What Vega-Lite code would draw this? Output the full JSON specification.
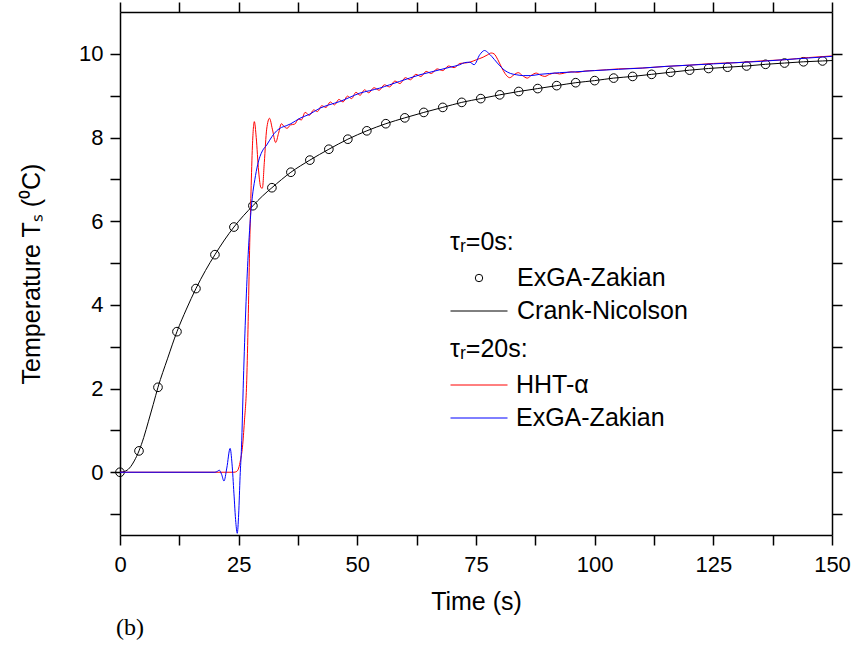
{
 "$schema": "https://vega.github.io/schema/vega-lite/v6.json",
 "width": 712,
 "height": 523,
 "autosize": {"type": "none"},
 "padding": {"left": 120, "top": 12, "right": 23, "bottom": 123},
 "background": "white",
 "title": {"text": "(b)", "orient": "bottom", "anchor": "start", "frame": "group", "font": "Liberation Serif", "fontSize": 24, "fontWeight": "normal", "color": "black", "offset": 2, "dx": -4},
 "config": {
  "view": {"stroke": null},
  "font": "Liberation Sans",
  "axis": {"domainColor": "black", "domainWidth": 1.5, "tickColor": "black", "tickWidth": 1.5, "labelColor": "black", "labelFont": "Liberation Sans", "labelFontSize": 22, "titleFont": "Liberation Sans", "titleFontSize": 25, "titleFontWeight": "normal", "titleColor": "black", "grid": false, "labelFlush": false, "labelOverlap": false, "labelBound": false},
  "legend": {"orient": "none", "labelFont": "Liberation Sans", "labelFontSize": 25, "labelColor": "black", "titleFont": "Liberation Sans", "titleFontSize": 25, "titleFontWeight": "normal", "titleColor": "black", "padding": 0, "rowPadding": 8, "titlePadding": 11, "labelOffset": 8, "symbolSize": 3249, "symbolStrokeWidth": 1, "clipHeight": 24, "titleLimit": 300, "labelLimit": 300}
 },
 "datasets": {
  "ex0": [
   {"t": 0, "T": 0, "s": "ExGA-Zakian"}, {"t": 4, "T": 0.51, "s": "ExGA-Zakian"}, {"t": 8, "T": 2.03, "s": "ExGA-Zakian"}, {"t": 12, "T": 3.36, "s": "ExGA-Zakian"}, {"t": 16, "T": 4.39, "s": "ExGA-Zakian"}, {"t": 20, "T": 5.2, "s": "ExGA-Zakian"}, {"t": 24, "T": 5.86, "s": "ExGA-Zakian"}, {"t": 28, "T": 6.37, "s": "ExGA-Zakian"}, {"t": 32, "T": 6.8, "s": "ExGA-Zakian"}, {"t": 36, "T": 7.17, "s": "ExGA-Zakian"}, {"t": 40, "T": 7.46, "s": "ExGA-Zakian"}, {"t": 44, "T": 7.72, "s": "ExGA-Zakian"}, {"t": 48, "T": 7.96, "s": "ExGA-Zakian"}, {"t": 52, "T": 8.16, "s": "ExGA-Zakian"}, {"t": 56, "T": 8.33, "s": "ExGA-Zakian"}, {"t": 60, "T": 8.47, "s": "ExGA-Zakian"}, {"t": 64, "T": 8.6, "s": "ExGA-Zakian"}, {"t": 68, "T": 8.72, "s": "ExGA-Zakian"}, {"t": 72, "T": 8.84, "s": "ExGA-Zakian"}, {"t": 76, "T": 8.93, "s": "ExGA-Zakian"}, {"t": 80, "T": 9.02, "s": "ExGA-Zakian"}, {"t": 84, "T": 9.1, "s": "ExGA-Zakian"}, {"t": 88, "T": 9.17, "s": "ExGA-Zakian"}, {"t": 92, "T": 9.24, "s": "ExGA-Zakian"}, {"t": 96, "T": 9.31, "s": "ExGA-Zakian"}, {"t": 100, "T": 9.36, "s": "ExGA-Zakian"}, {"t": 104, "T": 9.42, "s": "ExGA-Zakian"}, {"t": 108, "T": 9.46, "s": "ExGA-Zakian"}, {"t": 112, "T": 9.51, "s": "ExGA-Zakian"}, {"t": 116, "T": 9.56, "s": "ExGA-Zakian"}, {"t": 120, "T": 9.61, "s": "ExGA-Zakian"}, {"t": 124, "T": 9.65, "s": "ExGA-Zakian"}, {"t": 128, "T": 9.68, "s": "ExGA-Zakian"}, {"t": 132, "T": 9.71, "s": "ExGA-Zakian"}, {"t": 136, "T": 9.75, "s": "ExGA-Zakian"}, {"t": 140, "T": 9.78, "s": "ExGA-Zakian"}, {"t": 144, "T": 9.81, "s": "ExGA-Zakian"}, {"t": 148, "T": 9.83, "s": "ExGA-Zakian"}
  ],
  "cn": [
   {"t": 0, "T": 0, "s": "Crank-Nicolson"}, {"t": 1, "T": 0.02, "s": "Crank-Nicolson"}, {"t": 2, "T": 0.1, "s": "Crank-Nicolson"}, {"t": 3, "T": 0.27, "s": "Crank-Nicolson"}, {"t": 4, "T": 0.51, "s": "Crank-Nicolson"}, {"t": 5, "T": 0.83, "s": "Crank-Nicolson"}, {"t": 6, "T": 1.22, "s": "Crank-Nicolson"}, {"t": 7, "T": 1.62, "s": "Crank-Nicolson"}, {"t": 8, "T": 2.03, "s": "Crank-Nicolson"}, {"t": 10, "T": 2.71, "s": "Crank-Nicolson"}, {"t": 12, "T": 3.36, "s": "Crank-Nicolson"}, {"t": 14, "T": 3.9, "s": "Crank-Nicolson"}, {"t": 16, "T": 4.39, "s": "Crank-Nicolson"}, {"t": 18, "T": 4.82, "s": "Crank-Nicolson"}, {"t": 20, "T": 5.2, "s": "Crank-Nicolson"}, {"t": 22, "T": 5.55, "s": "Crank-Nicolson"}, {"t": 24, "T": 5.86, "s": "Crank-Nicolson"}, {"t": 26, "T": 6.13, "s": "Crank-Nicolson"}, {"t": 28, "T": 6.37, "s": "Crank-Nicolson"}, {"t": 30, "T": 6.6, "s": "Crank-Nicolson"}, {"t": 32, "T": 6.8, "s": "Crank-Nicolson"}, {"t": 36, "T": 7.17, "s": "Crank-Nicolson"}, {"t": 40, "T": 7.46, "s": "Crank-Nicolson"}, {"t": 44, "T": 7.72, "s": "Crank-Nicolson"}, {"t": 48, "T": 7.96, "s": "Crank-Nicolson"}, {"t": 52, "T": 8.16, "s": "Crank-Nicolson"}, {"t": 56, "T": 8.33, "s": "Crank-Nicolson"}, {"t": 60, "T": 8.47, "s": "Crank-Nicolson"}, {"t": 64, "T": 8.6, "s": "Crank-Nicolson"}, {"t": 68, "T": 8.72, "s": "Crank-Nicolson"}, {"t": 72, "T": 8.84, "s": "Crank-Nicolson"}, {"t": 76, "T": 8.93, "s": "Crank-Nicolson"}, {"t": 80, "T": 9.02, "s": "Crank-Nicolson"}, {"t": 84, "T": 9.1, "s": "Crank-Nicolson"}, {"t": 88, "T": 9.17, "s": "Crank-Nicolson"}, {"t": 92, "T": 9.24, "s": "Crank-Nicolson"}, {"t": 96, "T": 9.31, "s": "Crank-Nicolson"}, {"t": 100, "T": 9.36, "s": "Crank-Nicolson"}, {"t": 104, "T": 9.42, "s": "Crank-Nicolson"}, {"t": 108, "T": 9.46, "s": "Crank-Nicolson"}, {"t": 112, "T": 9.51, "s": "Crank-Nicolson"}, {"t": 116, "T": 9.56, "s": "Crank-Nicolson"}, {"t": 120, "T": 9.61, "s": "Crank-Nicolson"}, {"t": 124, "T": 9.65, "s": "Crank-Nicolson"}, {"t": 128, "T": 9.68, "s": "Crank-Nicolson"}, {"t": 132, "T": 9.71, "s": "Crank-Nicolson"}, {"t": 136, "T": 9.75, "s": "Crank-Nicolson"}, {"t": 140, "T": 9.78, "s": "Crank-Nicolson"}, {"t": 144, "T": 9.81, "s": "Crank-Nicolson"}, {"t": 148, "T": 9.83, "s": "Crank-Nicolson"}, {"t": 150, "T": 9.84, "s": "Crank-Nicolson"}
  ],
  "tau20": [
   {"t": 0, "T": 0, "s": "HHT-α"}, {"t": 24.0, "T": 0, "s": "HHT-α"}, {"t": 24.6, "T": 0.02, "s": "HHT-α"}, {"t": 25.0, "T": 0.1, "s": "HHT-α"}, {"t": 25.4, "T": 0.3, "s": "HHT-α"}, {"t": 25.8, "T": 0.6, "s": "HHT-α"}, {"t": 26.2, "T": 1.2, "s": "HHT-α"}, {"t": 26.7, "T": 2.2, "s": "HHT-α"}, {"t": 27.0, "T": 3.6, "s": "HHT-α"}, {"t": 27.3, "T": 5.3, "s": "HHT-α"}, {"t": 27.6, "T": 6.7, "s": "HHT-α"}, {"t": 27.9, "T": 7.8, "s": "HHT-α"}, {"t": 28.3, "T": 8.38, "s": "HHT-α"}, {"t": 28.7, "T": 8.0, "s": "HHT-α"}, {"t": 29.2, "T": 7.2, "s": "HHT-α"}, {"t": 29.7, "T": 6.8, "s": "HHT-α"}, {"t": 30.0, "T": 6.79, "s": "HHT-α"}, {"t": 30.4, "T": 7.4, "s": "HHT-α"}, {"t": 30.9, "T": 8.2, "s": "HHT-α"}, {"t": 31.5, "T": 8.46, "s": "HHT-α"}, {"t": 32.1, "T": 8.2, "s": "HHT-α"}, {"t": 32.8, "T": 7.88, "s": "HHT-α"}, {"t": 33.4, "T": 8.1, "s": "HHT-α"}, {"t": 34.0, "T": 8.33, "s": "HHT-α"}, {"t": 34.6, "T": 8.26, "s": "HHT-α"}, {"t": 35.2, "T": 8.22, "s": "HHT-α"}, {"t": 35.9, "T": 8.3, "s": "HHT-α"}, {"t": 36.8, "T": 8.32, "s": "HHT-α"}, {"t": 37.6, "T": 8.44, "s": "HHT-α"}, {"t": 38.2, "T": 8.42, "s": "HHT-α"}, {"t": 39.0, "T": 8.6, "s": "HHT-α"}, {"t": 39.9, "T": 8.53, "s": "HHT-α"}, {"t": 40.8, "T": 8.66, "s": "HHT-α"}, {"t": 41.6, "T": 8.62, "s": "HHT-α"}, {"t": 42.5, "T": 8.76, "s": "HHT-α"}, {"t": 43.4, "T": 8.72, "s": "HHT-α"}, {"t": 44.3, "T": 8.85, "s": "HHT-α"}, {"t": 45.2, "T": 8.78, "s": "HHT-α"}, {"t": 46.1, "T": 8.91, "s": "HHT-α"}, {"t": 47.0, "T": 8.85, "s": "HHT-α"}, {"t": 47.9, "T": 8.99, "s": "HHT-α"}, {"t": 48.8, "T": 8.93, "s": "HHT-α"}, {"t": 49.7, "T": 9.08, "s": "HHT-α"}, {"t": 50.6, "T": 9.01, "s": "HHT-α"}, {"t": 51.5, "T": 9.14, "s": "HHT-α"}, {"t": 52.4, "T": 9.07, "s": "HHT-α"}, {"t": 53.5, "T": 9.19, "s": "HHT-α"}, {"t": 54.6, "T": 9.13, "s": "HHT-α"}, {"t": 55.7, "T": 9.26, "s": "HHT-α"}, {"t": 56.8, "T": 9.21, "s": "HHT-α"}, {"t": 57.9, "T": 9.35, "s": "HHT-α"}, {"t": 59.0, "T": 9.29, "s": "HHT-α"}, {"t": 60.1, "T": 9.43, "s": "HHT-α"}, {"t": 61.2, "T": 9.38, "s": "HHT-α"}, {"t": 62.3, "T": 9.51, "s": "HHT-α"}, {"t": 63.4, "T": 9.46, "s": "HHT-α"}, {"t": 64.5, "T": 9.58, "s": "HHT-α"}, {"t": 65.6, "T": 9.53, "s": "HHT-α"}, {"t": 66.8, "T": 9.64, "s": "HHT-α"}, {"t": 68.0, "T": 9.6, "s": "HHT-α"}, {"t": 69.2, "T": 9.71, "s": "HHT-α"}, {"t": 70.4, "T": 9.67, "s": "HHT-α"}, {"t": 71.6, "T": 9.77, "s": "HHT-α"}, {"t": 72.6, "T": 9.78, "s": "HHT-α"}, {"t": 73.7, "T": 9.8, "s": "HHT-α"}, {"t": 75.1, "T": 9.86, "s": "HHT-α"}, {"t": 76.5, "T": 9.92, "s": "HHT-α"}, {"t": 77.5, "T": 9.98, "s": "HHT-α"}, {"t": 78.2, "T": 10.02, "s": "HHT-α"}, {"t": 78.8, "T": 10.0, "s": "HHT-α"}, {"t": 79.6, "T": 9.86, "s": "HHT-α"}, {"t": 80.5, "T": 9.65, "s": "HHT-α"}, {"t": 81.3, "T": 9.5, "s": "HHT-α"}, {"t": 82.1, "T": 9.43, "s": "HHT-α"}, {"t": 83.0, "T": 9.5, "s": "HHT-α"}, {"t": 83.9, "T": 9.55, "s": "HHT-α"}, {"t": 84.8, "T": 9.48, "s": "HHT-α"}, {"t": 85.8, "T": 9.42, "s": "HHT-α"}, {"t": 86.7, "T": 9.49, "s": "HHT-α"}, {"t": 87.7, "T": 9.54, "s": "HHT-α"}, {"t": 88.6, "T": 9.49, "s": "HHT-α"}, {"t": 89.5, "T": 9.46, "s": "HHT-α"}, {"t": 90.5, "T": 9.51, "s": "HHT-α"}, {"t": 91.6, "T": 9.54, "s": "HHT-α"}, {"t": 92.6, "T": 9.52, "s": "HHT-α"}, {"t": 93.6, "T": 9.54, "s": "HHT-α"}, {"t": 95, "T": 9.57, "s": "HHT-α"}, {"t": 96.5, "T": 9.56, "s": "HHT-α"}, {"t": 98, "T": 9.59, "s": "HHT-α"}, {"t": 100, "T": 9.6, "s": "HHT-α"}, {"t": 105, "T": 9.64, "s": "HHT-α"}, {"t": 110, "T": 9.66, "s": "HHT-α"}, {"t": 115, "T": 9.7, "s": "HHT-α"}, {"t": 120, "T": 9.73, "s": "HHT-α"}, {"t": 125, "T": 9.77, "s": "HHT-α"}, {"t": 130, "T": 9.79, "s": "HHT-α"}, {"t": 135, "T": 9.83, "s": "HHT-α"}, {"t": 140, "T": 9.86, "s": "HHT-α"}, {"t": 145, "T": 9.91, "s": "HHT-α"}, {"t": 150, "T": 9.95, "s": "HHT-α"},
   {"t": 0, "T": 0, "s": "ExGA-Zakian"}, {"t": 20.0, "T": 0, "s": "ExGA-Zakian"}, {"t": 20.5, "T": 0.02, "s": "ExGA-Zakian"}, {"t": 20.9, "T": 0.05, "s": "ExGA-Zakian"}, {"t": 21.4, "T": -0.05, "s": "ExGA-Zakian"}, {"t": 21.9, "T": -0.21, "s": "ExGA-Zakian"}, {"t": 22.5, "T": 0.1, "s": "ExGA-Zakian"}, {"t": 23.2, "T": 0.57, "s": "ExGA-Zakian"}, {"t": 23.6, "T": 0.2, "s": "ExGA-Zakian"}, {"t": 24.0, "T": -0.5, "s": "ExGA-Zakian"}, {"t": 24.4, "T": -1.2, "s": "ExGA-Zakian"}, {"t": 24.7, "T": -1.46, "s": "ExGA-Zakian"}, {"t": 25.0, "T": -1.0, "s": "ExGA-Zakian"}, {"t": 25.3, "T": -0.1, "s": "ExGA-Zakian"}, {"t": 25.6, "T": 0.6, "s": "ExGA-Zakian"}, {"t": 26.0, "T": 2.2, "s": "ExGA-Zakian"}, {"t": 26.5, "T": 3.9, "s": "ExGA-Zakian"}, {"t": 27.0, "T": 5.2, "s": "ExGA-Zakian"}, {"t": 27.4, "T": 5.95, "s": "ExGA-Zakian"}, {"t": 27.9, "T": 6.6, "s": "ExGA-Zakian"}, {"t": 28.4, "T": 6.99, "s": "ExGA-Zakian"}, {"t": 29.0, "T": 7.35, "s": "ExGA-Zakian"}, {"t": 29.5, "T": 7.55, "s": "ExGA-Zakian"}, {"t": 30.0, "T": 7.68, "s": "ExGA-Zakian"}, {"t": 30.9, "T": 7.82, "s": "ExGA-Zakian"}, {"t": 32.0, "T": 8.02, "s": "ExGA-Zakian"}, {"t": 33.0, "T": 8.16, "s": "ExGA-Zakian"}, {"t": 34.0, "T": 8.24, "s": "ExGA-Zakian"}, {"t": 35.0, "T": 8.28, "s": "ExGA-Zakian"}, {"t": 36.0, "T": 8.33, "s": "ExGA-Zakian"}, {"t": 37.9, "T": 8.46, "s": "ExGA-Zakian"}, {"t": 40.0, "T": 8.56, "s": "ExGA-Zakian"}, {"t": 42.1, "T": 8.7, "s": "ExGA-Zakian"}, {"t": 44.0, "T": 8.78, "s": "ExGA-Zakian"}, {"t": 46.3, "T": 8.86, "s": "ExGA-Zakian"}, {"t": 48.4, "T": 8.96, "s": "ExGA-Zakian"}, {"t": 50.5, "T": 9.06, "s": "ExGA-Zakian"}, {"t": 52.6, "T": 9.12, "s": "ExGA-Zakian"}, {"t": 54.7, "T": 9.18, "s": "ExGA-Zakian"}, {"t": 56.8, "T": 9.26, "s": "ExGA-Zakian"}, {"t": 58.9, "T": 9.34, "s": "ExGA-Zakian"}, {"t": 61.0, "T": 9.42, "s": "ExGA-Zakian"}, {"t": 63.2, "T": 9.5, "s": "ExGA-Zakian"}, {"t": 65.3, "T": 9.56, "s": "ExGA-Zakian"}, {"t": 67.4, "T": 9.62, "s": "ExGA-Zakian"}, {"t": 69.5, "T": 9.68, "s": "ExGA-Zakian"}, {"t": 71.6, "T": 9.74, "s": "ExGA-Zakian"}, {"t": 72.6, "T": 9.79, "s": "ExGA-Zakian"}, {"t": 73.7, "T": 9.8, "s": "ExGA-Zakian"}, {"t": 74.6, "T": 9.74, "s": "ExGA-Zakian"}, {"t": 75.8, "T": 9.98, "s": "ExGA-Zakian"}, {"t": 76.8, "T": 10.08, "s": "ExGA-Zakian"}, {"t": 77.6, "T": 10.02, "s": "ExGA-Zakian"}, {"t": 78.3, "T": 9.94, "s": "ExGA-Zakian"}, {"t": 79.5, "T": 9.78, "s": "ExGA-Zakian"}, {"t": 81.1, "T": 9.6, "s": "ExGA-Zakian"}, {"t": 82.3, "T": 9.53, "s": "ExGA-Zakian"}, {"t": 83.5, "T": 9.5, "s": "ExGA-Zakian"}, {"t": 85.0, "T": 9.48, "s": "ExGA-Zakian"}, {"t": 86.5, "T": 9.48, "s": "ExGA-Zakian"}, {"t": 88.4, "T": 9.51, "s": "ExGA-Zakian"}, {"t": 90.5, "T": 9.53, "s": "ExGA-Zakian"}, {"t": 92.6, "T": 9.55, "s": "ExGA-Zakian"}, {"t": 96, "T": 9.57, "s": "ExGA-Zakian"}, {"t": 100, "T": 9.6, "s": "ExGA-Zakian"}, {"t": 105, "T": 9.63, "s": "ExGA-Zakian"}, {"t": 110, "T": 9.66, "s": "ExGA-Zakian"}, {"t": 115, "T": 9.7, "s": "ExGA-Zakian"}, {"t": 120, "T": 9.73, "s": "ExGA-Zakian"}, {"t": 125, "T": 9.76, "s": "ExGA-Zakian"}, {"t": 130, "T": 9.79, "s": "ExGA-Zakian"}, {"t": 135, "T": 9.82, "s": "ExGA-Zakian"}, {"t": 140, "T": 9.86, "s": "ExGA-Zakian"}, {"t": 145, "T": 9.9, "s": "ExGA-Zakian"}, {"t": 150, "T": 9.94, "s": "ExGA-Zakian"}
  ]
 },
 "layer": [
  {
   "data": {"name": "ex0"},
   "mark": {"type": "point", "opacity": 0},
   "encoding": {
    "x": {"field": "t", "type": "quantitative", "scale": {"domain": [0, 150], "nice": false, "zero": false},
     "axis": {"orient": "bottom", "values": [0, 12.5, 25, 37.5, 50, 62.5, 75, 87.5, 100, 112.5, 125, 137.5, 150], "tickSize": 10, "labelPadding": 9, "labelExpr": "datum.value % 25 === 0 ? datum.label : ''", "title": "Time (s)", "titlePadding": 14,
      "encode": {"ticks": {"update": {"y2": {"signal": "datum.value % 25 === 0 ? 10 : 6"}}}}}},
    "y": {"field": "T", "type": "quantitative", "scale": {"domain": [-1.5, 11], "nice": false, "zero": false},
     "axis": {"orient": "left", "values": [-1, 0, 1, 2, 3, 4, 5, 6, 7, 8, 9, 10], "tickSize": 10, "labelPadding": 7, "labelExpr": "datum.value % 2 === 0 ? datum.label : ''", "title": "Temperature Tₛ (⁰C)", "titlePadding": 34,
      "encode": {"ticks": {"update": {"x2": {"signal": "datum.value % 2 === 0 ? -10 : -6"}}}}}}
   }
  },
  {
   "data": {"name": "ex0"},
   "mark": {"type": "point", "opacity": 0},
   "encoding": {
    "x": {"field": "t", "type": "quantitative", "scale": {"domain": [0, 150], "nice": false, "zero": false},
     "axis": {"orient": "top", "values": [0, 12.5, 25, 37.5, 50, 62.5, 75, 87.5, 100, 112.5, 125, 137.5, 150], "tickSize": 10, "labels": false, "title": null,
      "encode": {"ticks": {"update": {"y2": {"signal": "datum.value % 25 === 0 ? 10 : 7"}}}}}},
    "y": {"field": "T", "type": "quantitative", "scale": {"domain": [-1.5, 11], "nice": false, "zero": false},
     "axis": {"orient": "right", "values": [-1, 0, 1, 2, 3, 4, 5, 6, 7, 8, 9, 10], "tickSize": 10, "labels": false, "title": null,
      "encode": {"ticks": {"update": {"x2": {"signal": "datum.value % 2 === 0 ? -10 : -7"}}}}}}
   }
  },
  {
   "layer": [
    {
     "data": {"name": "cn"},
     "mark": {"type": "line", "strokeWidth": 1, "interpolate": "monotone"},
     "encoding": {
      "x": {"field": "t", "type": "quantitative", "scale": {"domain": [0, 150], "nice": false, "zero": false}, "axis": null},
      "y": {"field": "T", "type": "quantitative", "scale": {"domain": [-1.5, 11], "nice": false, "zero": false}, "axis": null},
      "color": {"field": "s", "type": "nominal", "scale": {"domain": ["ExGA-Zakian", "Crank-Nicolson"], "range": ["black", "black"]},
       "legend": {"title": "τᵣ=0s:", "orient": "none", "legendX": 330, "legendY": 218, "symbolSize": 3249, "symbolType": "stroke", "symbolOffset": 16.5, "labelOffset": 25.5,
        "labelExpr": "datum.label === 'Crank-Nicolson' ? '\u00a0Crank-Nicolson' : datum.label",
        "encode": {"symbols": {"update": {"shape": {"signal": "datum.value === 'Crank-Nicolson' ? 'stroke' : 'circle'"}, "size": {"signal": "datum.value === 'Crank-Nicolson' ? 3249 : 55"}, "fill": {"value": "transparent"}, "stroke": {"value": "black"}, "strokeWidth": {"value": 1}}}}}}
     }
    },
    {
     "data": {"name": "ex0"},
     "mark": {"type": "point", "filled": false, "size": 75, "strokeWidth": 1, "opacity": 1},
     "encoding": {
      "x": {"field": "t", "type": "quantitative", "scale": {"domain": [0, 150], "nice": false, "zero": false}, "axis": null},
      "y": {"field": "T", "type": "quantitative", "scale": {"domain": [-1.5, 11], "nice": false, "zero": false}, "axis": null},
      "color": {"field": "s", "type": "nominal", "scale": {"domain": ["ExGA-Zakian", "Crank-Nicolson"], "range": ["black", "black"]}}
     }
    }
   ]
  },
  {
   "data": {"name": "tau20"},
   "mark": {"type": "line", "strokeWidth": 1, "interpolate": "monotone"},
   "encoding": {
    "x": {"field": "t", "type": "quantitative", "scale": {"domain": [0, 150], "nice": false, "zero": false}, "axis": null},
    "y": {"field": "T", "type": "quantitative", "scale": {"domain": [-1.5, 11], "nice": false, "zero": false}, "axis": null},
    "color": {"field": "s", "type": "nominal", "scale": {"domain": ["HHT-α", "ExGA-Zakian"], "range": ["#ff0000", "#0000ff"]},
     "legend": {"title": "τᵣ=20s:", "orient": "none", "legendX": 330, "legendY": 325, "symbolType": "stroke", "symbolSize": 3249}}
   }
  }
 ],
 "resolve": {"scale": {"color": "independent"}, "axis": {"x": "independent", "y": "independent"}, "legend": {"color": "independent"}}
}
